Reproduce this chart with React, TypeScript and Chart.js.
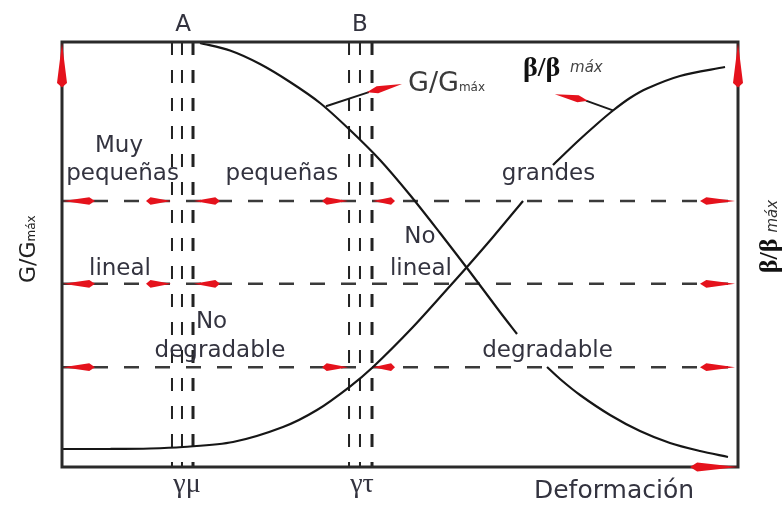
import React, { useEffect, useRef } from "react";
import { Chart, registerables } from "chart.js";
Chart.register(...registerables);

// ---- data (strain in % of plotted range, ratios 0..1) ----
const gStrainA = [20.41, 24.85, 29.29, 33.73, 38.17, 42.6, 47.04, 51.48, 55.92, 60.36, 64.79, 67.31];
const gRatioA = [0.9976, 0.98, 0.9482, 0.9059, 0.8565, 0.7929, 0.7224, 0.64, 0.5506, 0.4588, 0.3647, 0.3129];
const gStrainB = [71.75, 73.67, 76.63, 81.07, 85.5, 89.94, 94.38, 98.52];
const gRatioB = [0.2353, 0.2071, 0.1694, 0.1224, 0.0847, 0.0565, 0.0376, 0.0235];
const bStrainA = [0, 7.1, 13.02, 17.9, 25.3, 32.69, 37.72, 42.6, 46.01, 51.92, 57.4, 59.91, 63.76, 68.2];
const bRatioA = [0.0424, 0.0424, 0.0435, 0.0471, 0.0588, 0.0941, 0.1341, 0.1894, 0.2353, 0.3294, 0.4259, 0.4706, 0.5412, 0.6259];
const bStrainB = [72.63, 76.18, 79.14, 81.51, 84.02, 86.54, 91.42, 98.08];
const bRatioB = [0.7106, 0.7647, 0.8071, 0.8388, 0.8682, 0.8906, 0.92, 0.9412];

const thresholdStrains = [16.27, 17.75, 19.38, 42.46, 44.08, 45.86];
const thresholdWidths = [2, 2, 3, 2, 2, 3];
const regionLevels = [0.626, 0.431, 0.235];

const regionLabels = ["Muy", "pequeñas", "pequeñas", "grandes", "lineal", "No", "lineal", "No", "degradable", "degradable"];
const regionLabelX = [8.43, 8.95, 32.54, 71.97, 8.58, 52.96, 53.1, 22.12, 23.37, 71.82];
const regionLabelY = [0.741, 0.675, 0.675, 0.675, 0.452, 0.527, 0.452, 0.327, 0.259, 0.259];

const thresholdNames = ["A", "B"];
const thresholdNameX = [17.9, 44.08];
const thresholdSymbols = ["γμ", "γτ"];
const thresholdSymbolX = [18.49, 44.38];

// region boundary arrows: [level index, tip strain, tail strain]
const rangeArrows: [number, number, number][] = [
  [0, 0.15, 4.88], [0, 16.12, 12.43], [0, 19.53, 23.37], [0, 42.31, 38.46], [0, 46.01, 49.26], [0, 99.56, 94.38],
  [1, 0.15, 4.88], [1, 16.12, 12.43], [1, 19.53, 23.37], [1, 99.56, 94.38],
  [2, 0.15, 4.88], [2, 42.31, 38.46], [2, 46.01, 49.26], [2, 99.56, 94.38],
];

const RED = "#e5121c";
const TXT = "#33333f";

function spear(ctx: CanvasRenderingContext2D, tx: number, ty: number, sx: number, sy: number, hw: number, at = 0.18) {
  const dx = tx - sx, dy = ty - sy;
  const len = Math.hypot(dx, dy);
  const ux = dx / len, uy = dy / len;
  const nx = -uy, ny = ux;
  const wx = sx + ux * len * at, wy = sy + uy * len * at;
  ctx.beginPath();
  ctx.moveTo(sx, sy);
  ctx.lineTo(wx + nx * hw, wy + ny * hw);
  ctx.lineTo(tx, ty);
  ctx.lineTo(wx - nx * hw, wy - ny * hw);
  ctx.closePath();
  ctx.fill();
}

const overlay = {
  id: "overlay",
  afterDatasetsDraw(chart: any) {
    const { ctx, chartArea: a, scales } = chart;
    const px = (v: number) => scales.x.getPixelForValue(v);
    const py = (v: number) => scales.y.getPixelForValue(v);
    ctx.save();
    // frame
    ctx.strokeStyle = "#2a2a2a";
    ctx.lineWidth = 3;
    ctx.strokeRect(a.left, a.top, a.right - a.left, a.bottom - a.top);

    // arrows
    ctx.fillStyle = RED;
    rangeArrows.forEach(([li, tip, tail]) => {
      const yy = py(regionLevels[li]);
      spear(ctx, px(tip), yy, px(tail), yy, 3.8);
    });
    spear(ctx, px(0), py(0.998), px(0), py(0.893), 5, 0.1);
    spear(ctx, px(100), py(0.998), px(100), py(0.893), 5, 0.1);
    spear(ctx, px(100), py(0), px(92.9), py(0), 4.5, 0.15);

    // pointers
    ctx.strokeStyle = "#1a1a1a";
    ctx.lineWidth = 2;
    ctx.beginPath();
    ctx.moveTo(px(39.05), py(0.849));
    ctx.lineTo(px(45.4), py(0.882));
    ctx.moveTo(px(81.5), py(0.839));
    ctx.lineTo(px(77.5), py(0.862));
    ctx.stroke();
    ctx.fillStyle = RED;
    spear(ctx, px(50.3), py(0.901), px(45.1), py(0.882), 3.5, 0.3);
    spear(ctx, px(72.9), py(0.877), px(77.8), py(0.862), 3.5, 0.3);

    // texts
    ctx.fillStyle = TXT;
    ctx.textBaseline = "alphabetic";
    ctx.textAlign = "center";
    ctx.font = "23px 'DejaVu Sans'";
    regionLabels.forEach((t, i) => ctx.fillText(t, px(regionLabelX[i]), py(regionLabelY[i])));
    thresholdNames.forEach((t, i) => ctx.fillText(t, px(thresholdNameX[i]), py(1.026)));
    ctx.font = "25px 'DejaVu Sans'";
    ctx.fillText("Deformación", px(81.66), py(-0.073));
    ctx.font = "28px 'Liberation Serif'";
    thresholdSymbols.forEach((t, i) => ctx.fillText(t, px(thresholdSymbolX[i]), py(-0.059)));

    // G/Gmáx pointer label
    ctx.textAlign = "left";
    ctx.fillStyle = "#3a3a3a";
    ctx.font = "27px 'DejaVu Sans'";
    const gx = px(51.18), gy = py(0.885);
    ctx.fillText("G/G", gx, gy);
    const gw = ctx.measureText("G/G").width;
    ctx.font = "12px 'DejaVu Sans'";
    ctx.fillText("máx", gx + gw, gy);

    // β/β máx pointer label
    ctx.fillStyle = "#111";
    ctx.font = "bold 28px 'Liberation Serif'";
    ctx.fillText("β/β", px(68.2), py(0.92));
    ctx.fillStyle = "#444";
    ctx.font = "italic 15px 'DejaVu Sans'";
    ctx.fillText("máx", px(75.15), py(0.929));

    // left axis title
    ctx.save();
    ctx.translate(px(-3.99), py(0.433));
    ctx.rotate(-Math.PI / 2);
    ctx.fillStyle = "#222";
    ctx.font = "22px 'DejaVu Sans'";
    ctx.fillText("G/G", 0, 0);
    const lw = ctx.measureText("G/G").width;
    ctx.font = "12px 'DejaVu Sans'";
    ctx.fillText("máx", lw, 0);
    ctx.restore();

    // right axis title
    ctx.save();
    ctx.translate(px(105.8), py(0.456));
    ctx.rotate(-Math.PI / 2);
    ctx.fillStyle = "#111";
    ctx.font = "bold 26px 'Liberation Serif'";
    ctx.fillText("β/β", 0, 0);
    const rw = ctx.measureText("β/β").width;
    ctx.fillStyle = "#333";
    ctx.font = "italic 15px 'DejaVu Sans'";
    ctx.fillText("máx", rw + 6, 0);
    ctx.restore();

    ctx.restore();
  },
};

const toPts = (xs: number[], ys: number[]) => xs.map((x, i) => ({ x, y: ys[i] }));

export default function App() {
  const ref = useRef<HTMLCanvasElement>(null);
  useEffect(() => {
    if (!ref.current) return;
    const curve = (xs: number[], ys: number[]) => ({
      data: toPts(xs, ys),
      borderColor: "#161616",
      borderWidth: 2.2,
      pointRadius: 0,
      tension: 0.3,
      fill: false,
    });
    const datasets: any[] = [
      curve(gStrainA, gRatioA),
      curve(gStrainB, gRatioB),
      curve(bStrainA, bRatioA),
      curve(bStrainB, bRatioB),
      ...regionLevels.map((lv) => ({
        data: [{ x: 0, y: lv }, { x: 100, y: lv }],
        borderColor: "#3a3a3a",
        borderWidth: 2.5,
        borderDash: [15, 16],
        pointRadius: 0,
      })),
      ...thresholdStrains.map((s, i) => ({
        data: [{ x: s, y: 1 }, { x: s, y: 0 }],
        borderColor: "#222",
        borderWidth: thresholdWidths[i],
        borderDash: [13, 15],
        pointRadius: 0,
      })),
    ];
    const chart = new Chart(ref.current, {
      type: "line",
      data: { datasets },
      options: {
        animation: false,
        responsive: false,
        devicePixelRatio: 1,
        layout: { padding: { left: 62, top: 42, right: 45, bottom: 41 } },
        plugins: { legend: { display: false }, tooltip: { enabled: false } },
        scales: {
          x: { type: "linear", min: 0, max: 100, display: false },
          y: { type: "linear", min: 0, max: 1, display: false },
        },
      },
      plugins: [overlay],
    });
    return () => chart.destroy();
  }, []);
  return (
    <div style={{ position: "fixed", left: 0, top: 0, width: 783, height: 508, background: "#fff" }}>
      <canvas ref={ref} width={783} height={508} />
    </div>
  );
}
